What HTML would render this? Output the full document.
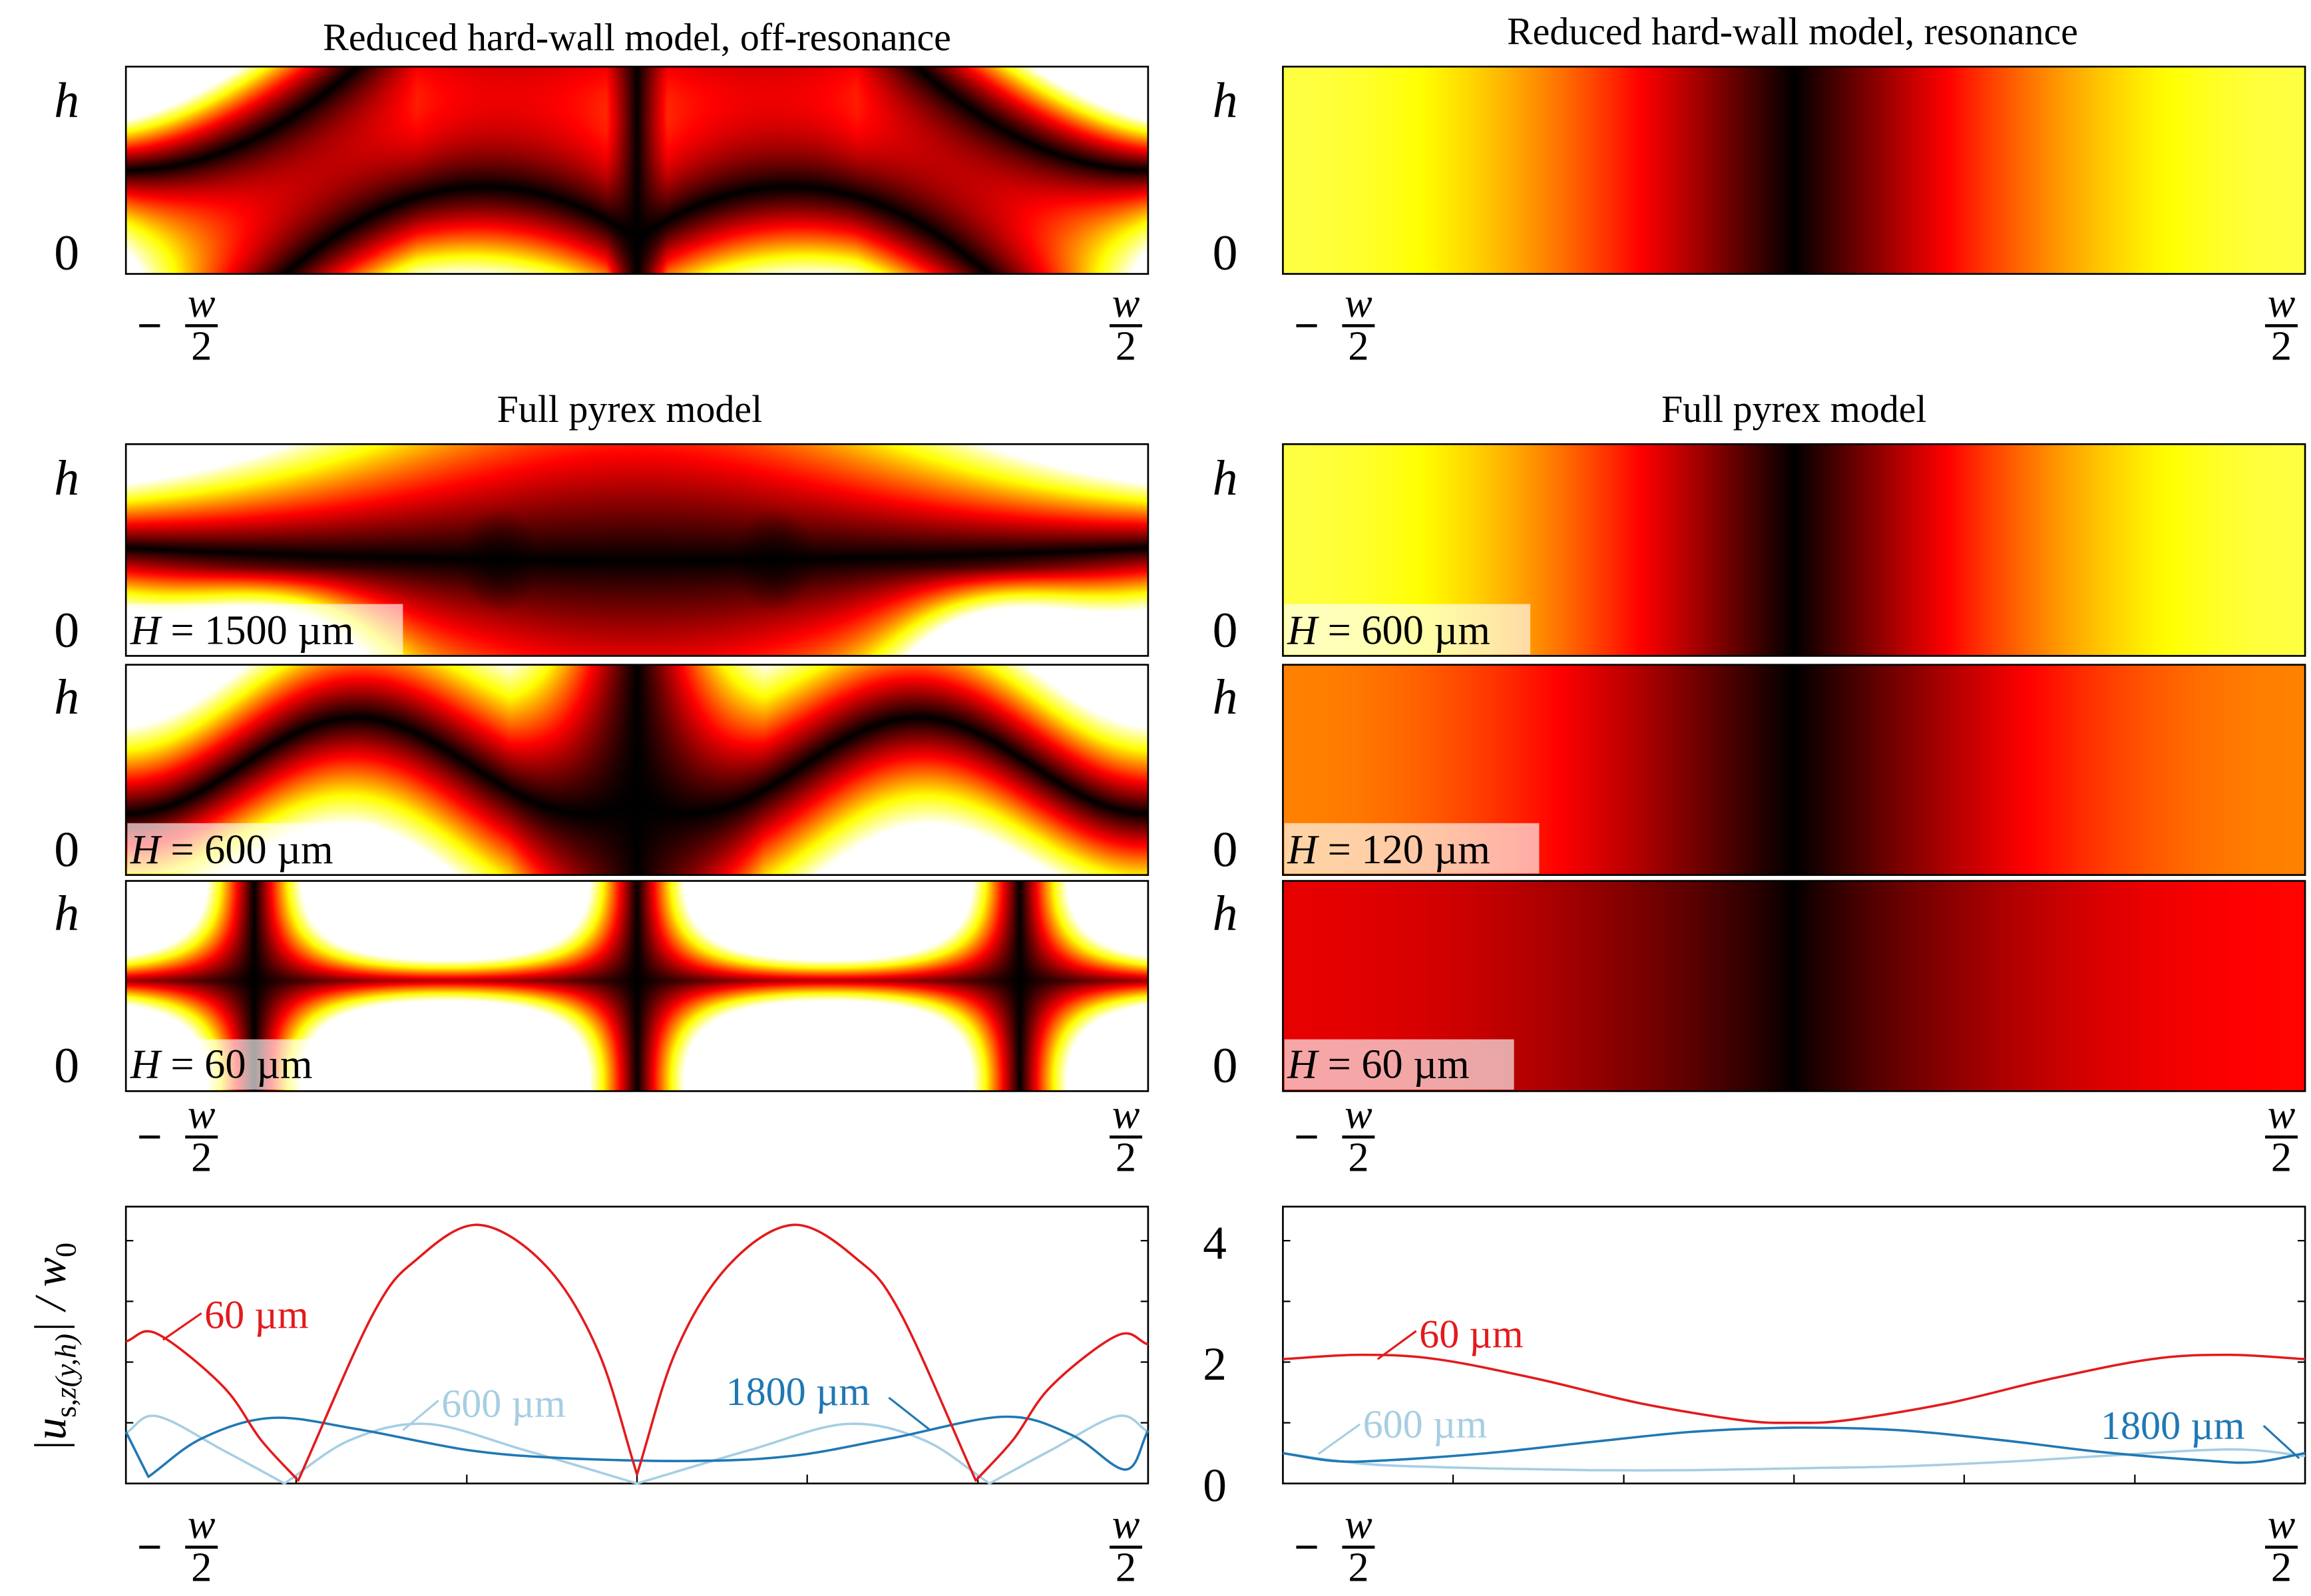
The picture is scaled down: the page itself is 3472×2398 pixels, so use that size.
<!DOCTYPE html>
<html><head><meta charset="utf-8"><style>
html,body{margin:0;padding:0;background:#fff;width:3472px;height:2398px;overflow:hidden}
#root{position:absolute;left:0;top:0;width:1560px;height:1078px;transform-origin:0 0;transform:scale(2.22564,2.22449)}
canvas{position:absolute}
svg{position:absolute;left:0;top:0}
text{font-family:"Liberation Serif",serif}
</style></head><body>
<div id="root">
<canvas id="L1" width="690" height="140" style="left:85px;top:45px;width:690px;height:140px"></canvas>
<canvas id="L2" width="690" height="143" style="left:85px;top:300px;width:690px;height:143px"></canvas>
<canvas id="L3" width="690" height="142" style="left:85px;top:449px;width:690px;height:142px"></canvas>
<canvas id="L4" width="690" height="142" style="left:85px;top:595px;width:690px;height:142px"></canvas>
<canvas id="R1" width="690" height="140" style="left:866px;top:45px;width:690px;height:140px"></canvas>
<canvas id="R2" width="690" height="143" style="left:866px;top:300px;width:690px;height:143px"></canvas>
<canvas id="R3" width="690" height="142" style="left:866px;top:449px;width:690px;height:142px"></canvas>
<canvas id="R4" width="690" height="142" style="left:866px;top:595px;width:690px;height:142px"></canvas>
<svg id="ov" width="1560" height="1078" viewBox="0 0 1560 1078">
<g fill="none" stroke="#000" stroke-width="1.2">
<rect x="85" y="45" width="690" height="140"/>
<rect x="866" y="45" width="690" height="140"/>
<rect x="85" y="300" width="690" height="143"/>
<rect x="85" y="449" width="690" height="142"/>
<rect x="85" y="595" width="690" height="142"/>
<rect x="866" y="300" width="690" height="143"/>
<rect x="866" y="449" width="690" height="142"/>
<rect x="866" y="595" width="690" height="142"/>
</g>
<g font-size="26" text-anchor="middle">
<text x="430" y="34">Reduced hard-wall model, off-resonance</text>
<text x="1210" y="30">Reduced hard-wall model, resonance</text>
<text x="425" y="285">Full pyrex model</text>
<text x="1211" y="285">Full pyrex model</text>
</g>
<g fill="#fff" fill-opacity="0.65">
<rect x="86" y="408" width="186" height="34"/>
<rect x="86" y="556" width="170" height="34"/>
<rect x="86" y="702" width="152" height="34"/>
<rect x="867" y="408" width="166" height="34"/>
<rect x="867" y="556" width="172" height="34"/>
<rect x="867" y="702" width="155" height="34"/>
</g>
<g font-size="28">
<text x="88" y="435"><tspan font-style="italic">H</tspan> = 1500 µm</text>
<text x="88" y="583"><tspan font-style="italic">H</tspan> = 600 µm</text>
<text x="88" y="728"><tspan font-style="italic">H</tspan> = 60 µm</text>
<text x="869" y="435"><tspan font-style="italic">H</tspan> = 600 µm</text>
<text x="869" y="583"><tspan font-style="italic">H</tspan> = 120 µm</text>
<text x="869" y="728"><tspan font-style="italic">H</tspan> = 60 µm</text>
</g>
<g id="axlabels" font-size="34"></g>
<g id="plots"></g>
<text x="0" y="0" font-size="30" font-style="italic" text-anchor="middle" transform="translate(44,910) rotate(-90)">|u<tspan font-size="20" dy="7" font-style="normal">s,</tspan><tspan font-size="20" font-style="italic">z(y,h)</tspan><tspan dy="-7">| / w</tspan><tspan font-size="20" dy="7" font-style="normal">0</tspan></text>
</svg>
</div>
<script>
// ---------- chart data (bottom line plots), y normalized -1..1 across channel ----------
const leftRedX   = [-1,-0.94,-0.81,-0.736,-0.663,-0.516,-0.43,-0.311,-0.18,-0.077,0,0.077,0.18,0.307,0.43,0.516,0.663,0.736,0.81,0.94,1];
const leftRedV   = [2.34,2.47,1.6,0.72,0.05,2.8,3.7,4.26,3.6,2.2,0.15,2.2,3.6,4.26,3.7,2.8,0.05,0.72,1.6,2.44,2.29];
const leftLightX = [-1,-0.94,-0.81,-0.69,-0.56,-0.41,-0.22,0,0.22,0.41,0.56,0.69,0.81,0.94,1];
const leftLightV = [0.83,1.11,0.55,0,0.72,0.98,0.55,0,0.55,0.98,0.72,0,0.55,1.11,0.85];
const leftDarkX  = [-1,-0.956,-0.85,-0.714,-0.55,-0.33,-0.15,0.1,0.3,0.5,0.72,0.85,0.956,1];
const leftDarkV  = [0.85,0.11,0.75,1.08,0.9,0.55,0.42,0.37,0.45,0.75,1.1,0.8,0.23,0.87];
const rightRedX  = [-1,-0.85,-0.7,-0.5,-0.3,-0.1,0,0.1,0.3,0.5,0.7,0.85,1];
const rightRedV  = [2.05,2.12,2.05,1.72,1.32,1.04,1.0,1.04,1.32,1.72,2.05,2.12,2.05];
const rightLightX= [-1,-0.9,-0.8,-0.6,-0.4,-0.2,0,0.2,0.4,0.6,0.8,0.9,1];
const rightLightV= [0.5,0.38,0.3,0.25,0.22,0.22,0.25,0.28,0.35,0.45,0.55,0.55,0.45];
const rightDarkX = [-1,-0.9,-0.8,-0.6,-0.4,-0.2,0,0.2,0.4,0.6,0.8,0.9,1];
const rightDarkV = [0.5,0.37,0.38,0.5,0.68,0.85,0.92,0.88,0.72,0.52,0.38,0.35,0.5];
const yTicks = [1,2,3,4];
const xTicks = [-0.667,-0.333,0,0.333,0.667];

const NS="http://www.w3.org/2000/svg";
function mk(tag,attrs,parent){const e=document.createElementNS(NS,tag);for(const k in attrs)e.setAttribute(k,attrs[k]);parent.appendChild(e);return e;}

// ---------- heatmaps ----------
function clamp(v){return v<0?0:v>1?1:v;}
function hot(t){t=clamp(t);return [255*clamp(t/0.365),255*clamp((t-0.365)/0.365),255*clamp((t-0.73)/0.27)];}
function paint(id,fn){
  const c=document.getElementById(id),ctx=c.getContext('2d'),W=c.width,H=c.height;
  const img=ctx.createImageData(W,H);
  for(let j=0;j<H;j++){const v=1-j/(H-1);for(let i=0;i<W;i++){const y=-1+2*i/(W-1);
    const col=hot(fn(y,v));const p=(j*W+i)*4;img.data[p]=col[0];img.data[p+1]=col[1];img.data[p+2]=col[2];img.data[p+3]=255;}}
  ctx.putImageData(img,0,0);
}
const cen=(y,w)=>Math.min(1,Math.abs(y)/w);
paint('L1',(y,v)=>{const a=Math.abs(y);const n1=Math.min(1.3,0.5+0.5*Math.pow(Math.max(0,1-a)/0.45,2));const n2=0.42-2.8*(a-0.3)*(a-0.3);
  return 1.5*Math.abs((v-n1)*(v-n2))*cen(y,0.06)*(1+0.6*a);});
paint('L2',(y,v)=>{const a=Math.abs(y);const n=0.45+0.06*a*a;const w=0.45+1.6*a*a;let f=1.6*Math.abs(v-n)*w;
  const d=Math.hypot((a-0.27)/0.08,(v-0.45)/0.25);f*=Math.min(1,0.3+0.7*d);
  f+=1.0*Math.exp(-Math.pow((a-0.72)/0.18,2))*clamp((0.42-v)/0.42);return f;});
paint('L3',(y,v)=>{const a=Math.abs(y);const n=0.52+0.23*Math.cos(2*Math.PI*(a-0.55)/0.9);
  return 2.0*Math.abs(v-n)*cen(y,0.25)*(0.7+0.5*a);});
paint('L4',(y,v)=>{const s=Math.sin(Math.PI*y/0.75);return 2.4*Math.abs(s*Math.cos(Math.PI*(v-0.05)*1.05))+0.25*Math.abs(s);});
paint('R1',(y,v)=>0.8*Math.abs(Math.sin(Math.PI*y/2)));
paint('R2',(y,v)=>0.8*Math.abs(Math.sin(Math.PI*y/2)));
paint('R3',(y,v)=>0.55*Math.abs(Math.sin(Math.PI*y/2)));
paint('R4',(y,v)=>(y<0?0.33:0.37)*Math.pow(Math.abs(Math.sin(Math.PI*y/2)),0.8));

// ---------- axis labels (h, 0, -w/2, w/2) ----------
const ax=document.getElementById('axlabels');
[[45,75,185],[45,330,440],[45,478,588],[45,624,734]].forEach((r,i)=>{
  [0,1].forEach(side=>{
    const x=side?827:r[0];
    const h=mk('text',{x:x,y:r[1]+4,'text-anchor':'middle','font-style':'italic'},ax);h.textContent='h';
    
    
    const z=mk('text',{x:x,y:r[2]-3,'text-anchor':'middle'},ax);z.textContent='0';
    
    
  });
});
function frac(x,y,neg){
  const g=mk('g',{},ax);
  
  
  if(neg){mk('line',{x1:x-42,x2:x-28,y1:y,y2:y,stroke:'#000','stroke-width':2},g);}
  const w=mk('text',{x:x,y:y-6,'text-anchor':'middle','font-style':'italic','font-size':28},g);w.textContent='w';
  mk('line',{x1:x-11,x2:x+11,y1:y,y2:y,stroke:'#000','stroke-width':2},g);
  const t=mk('text',{x:x,y:y+23,'text-anchor':'middle','font-size':28},g);t.textContent='2';
}
[220,768,1045].forEach(y=>{frac(136,y,true);frac(760,y,false);frac(917,y,true);frac(1540,y,false);});

// ---------- bottom line plots ----------
const P=document.getElementById('plots');
const Y=v=>1002-v*41;
function smoothPath(px,py,vals){
  const n=px.length;const cusp=i=>vals[i]<0.2;
  const tan=(i,side)=>{
    if(i===0) return [px[1]-px[0],py[1]-py[0]];
    if(i===n-1) return [px[n-1]-px[n-2],py[n-1]-py[n-2]];
    if(cusp(i)) return side<0?[px[i]-px[i-1],py[i]-py[i-1]]:[px[i+1]-px[i],py[i+1]-py[i]];
    return [(px[i+1]-px[i-1])/2,(py[i+1]-py[i-1])/2];
  };
  let d='M'+px[0].toFixed(1)+','+py[0].toFixed(1);
  for(let i=0;i<n-1;i++){
    const t0=tan(i,1),t1=tan(i+1,-1);
    d+=' C'+(px[i]+t0[0]/3).toFixed(1)+','+(py[i]+t0[1]/3).toFixed(1)+' '+(px[i+1]-t1[0]/3).toFixed(1)+','+(py[i+1]-t1[1]/3).toFixed(1)+' '+px[i+1].toFixed(1)+','+py[i+1].toFixed(1);
  }
  return d;
}
function panel(x0,name,series){
  const X=u=>x0+(u+1)/2*690;
  const g=mk('g',{},P);
  
  
  mk('rect',{x:x0,y:815,width:690,height:187,fill:'none',stroke:'#000','stroke-width':1.2},g);
  yTicks.forEach(t=>{mk('line',{x1:x0,x2:x0+5,y1:Y(t),y2:Y(t),stroke:'#000'},g);mk('line',{x1:x0+690,x2:x0+685,y1:Y(t),y2:Y(t),stroke:'#000'},g);});
  xTicks.forEach(t=>{mk('line',{x1:X(t),x2:X(t),y1:1002,y2:996,stroke:'#000'},g);});
  series.forEach(s=>{
    const d=smoothPath(s.x.map(X),s.v.map(Y),s.v);
    const pl=mk('path',{d:d,fill:'none',stroke:s.c,'stroke-width':1.6,'stroke-linejoin':'round'},g);
    
    
  });
  return X;
}
panel(85,'plot-off-resonance',[
 {x:leftLightX,v:leftLightV,c:'#a6cee3',n:'line-600um'},
 {x:leftDarkX,v:leftDarkV,c:'#1f78b4',n:'line-1800um'},
 {x:leftRedX,v:leftRedV,c:'#e31a1c',n:'line-60um'}]);
panel(866,'plot-resonance',[
 {x:rightLightX,v:rightLightV,c:'#a6cee3',n:'line-600um-res'},
 {x:rightDarkX,v:rightDarkV,c:'#1f78b4',n:'line-1800um-res'},
 {x:rightRedX,v:rightRedV,c:'#e31a1c',n:'line-60um-res'}]);
[[4,'4'],[2,'2'],[0,'0']].forEach(([v,s])=>{const t=mk('text',{x:820,y:Y(v)+12,'text-anchor':'middle','font-size':32},P);t.textContent=s;
  
  });
[[138,897,'#e31a1c','60 µm',110,905,136,887],[298,957,'#a6cee3','600 µm',272,966,296,946],[490,949,'#1f78b4','1800 µm',628,966,600,944],
 [958,910,'#e31a1c','60 µm',930,918,956,899],[920,971,'#a6cee3','600 µm',890,982,918,962],[1418,972,'#1f78b4','1800 µm',1552,985,1528,963]]
.forEach(a=>{mk('line',{x1:a[4],y1:a[5],x2:a[6],y2:a[7],stroke:a[2],'stroke-width':1.4},P);
  const t=mk('text',{x:a[0],y:a[1],fill:a[2],'font-size':27},P);t.textContent=a[3];
  
  });
</script>
</body></html>
